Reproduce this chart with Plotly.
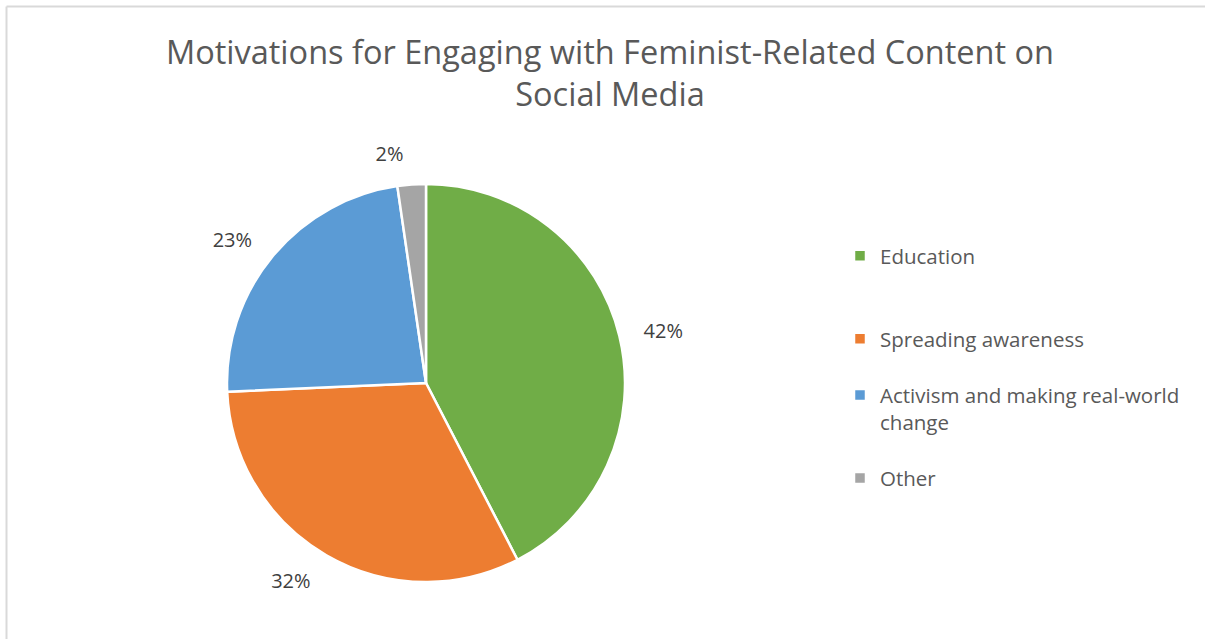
import plotly.graph_objects as go

# Survey shares for each motivation (percent)
categories = ["Education", "Spreading awareness", "Activism and making real-world change", "Other"]
legend_names = ["Education", "Spreading awareness", "Activism and making real-world<br>change", "Other"]
shares = [42.4, 31.9, 23.4, 2.3]
colors = ["#70AD47", "#ED7D31", "#5B9BD5", "#A5A5A5"]

W, H = 1205, 639
FONT = "Open Sans"

# pie centre and radius in pixels
CX, CY, R = 426, 383, 199
LABEL_R = R + 18  # percentage labels sit a little further out

# extra blank lines spread the legend entries out vertically
pad = ["<br> <br> ", "<br> ", "<br> ", ""]
legend_labels = [n + p for n, p in zip(legend_names, pad)]


def domain(r):
    return dict(x=[(CX - r) / W, (CX + r) / W], y=[1 - (CY + r) / H, 1 - (CY - r) / H])


fig = go.Figure()

# the pie itself
fig.add_trace(
    go.Pie(
        labels=legend_labels,
        values=shares,
        customdata=categories,
        sort=False,
        direction="clockwise",
        rotation=0,
        marker=dict(colors=colors, line=dict(color="white", width=2.5)),
        textinfo="none",
        hovertemplate="%{customdata}: %{value}%<extra></extra>",
        domain=domain(R),
    )
)

# percentage labels, placed around a slightly wider transparent ring
fig.add_trace(
    go.Pie(
        labels=legend_labels,
        values=shares,
        sort=False,
        direction="clockwise",
        rotation=0,
        marker=dict(colors=["rgba(0,0,0,0)"] * len(shares), line=dict(width=0)),
        texttemplate="%{percent:.0%}",
        textposition="outside",
        textfont=dict(family=FONT, size=20, color="#404040"),
        hoverinfo="skip",
        showlegend=False,
        domain=domain(LABEL_R),
    )
)

fig.update_layout(
    width=W,
    height=H,
    margin=dict(l=0, r=0, t=0, b=0),
    paper_bgcolor="white",
    plot_bgcolor="white",
    title=dict(
        text="Motivations for Engaging with Feminist-Related Content on<br>Social Media",
        x=610 / W,
        xanchor="center",
        y=1 - 64 / H,
        yanchor="top",
        font=dict(family=FONT, size=32.5, color="#595959"),
    ),
    legend=dict(
        x=840 / W,
        y=1 - 236 / H,
        xanchor="left",
        yanchor="top",
        valign="top",
        font=dict(family=FONT, size=20.5, color="#595959"),
        itemwidth=30,
    ),
    shapes=[
        dict(type="line", xref="paper", yref="paper", x0=6.5 / W, x1=1.0, y0=1 - 6.5 / H, y1=1 - 6.5 / H,
             line=dict(color="#D9D9D9", width=2)),
        dict(type="line", xref="paper", yref="paper", x0=6.5 / W, x1=6.5 / W, y0=0, y1=1 - 6.5 / H,
             line=dict(color="#D9D9D9", width=2)),
    ],
)

fig.write_html("out.html")
